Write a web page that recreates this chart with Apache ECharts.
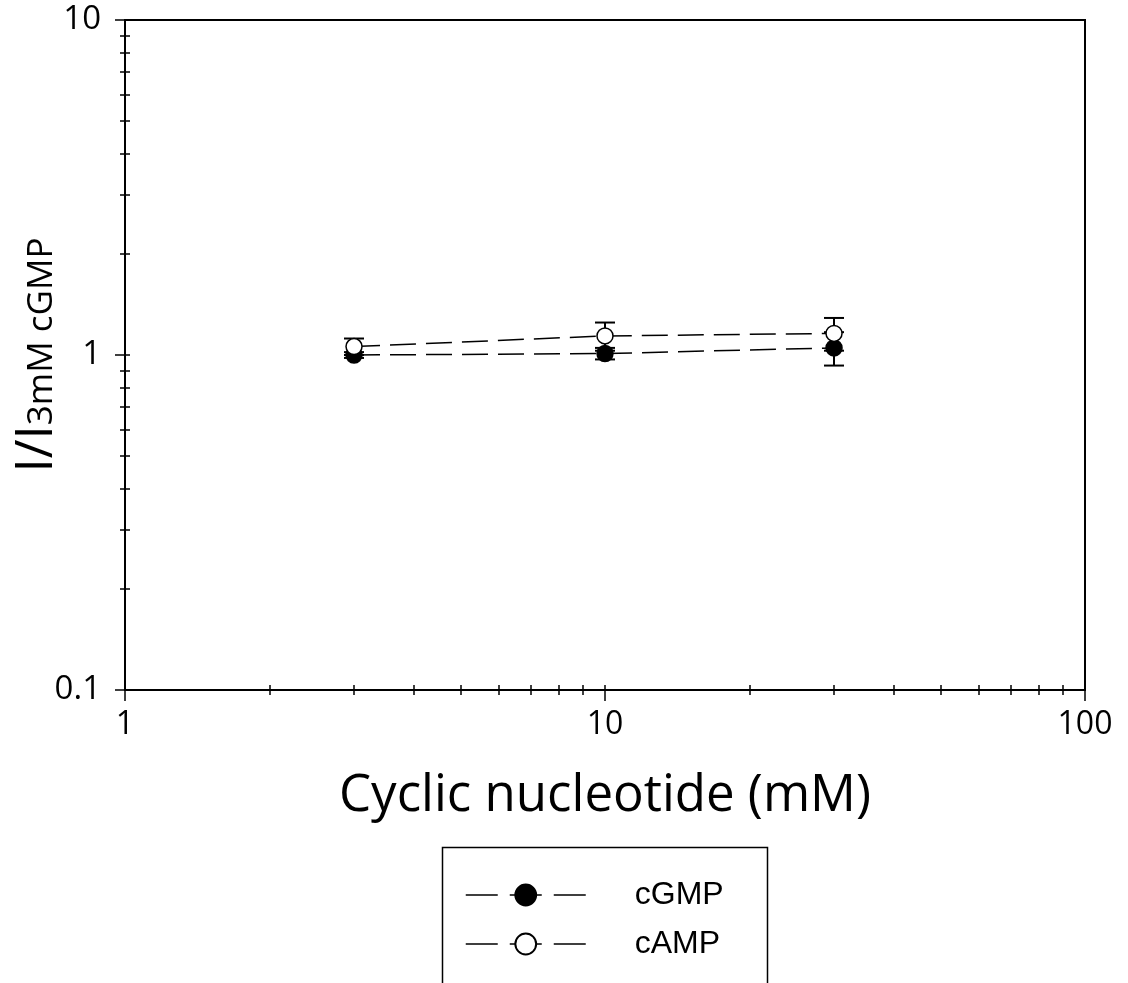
<!DOCTYPE html>
<html>
<head>
<meta charset="utf-8">
<script src="https://cdn.jsdelivr.net/npm/echarts@6/dist/echarts.min.js"></script>
<style>html,body{margin:0;padding:0;background:#fff;}#c{width:1128px;height:983px;}</style>
</head>
<body>
<div id="c"></div>
<script>
const concentrations = [3, 10, 30];
const cGMP = [1.00, 1.01, 1.05];
const cGMPErr = [0.02, 0.04, 0.12];
const cAMP = [1.06, 1.14, 1.16];
const cAMPErr = [0.06, 0.11, 0.13];
const xMajorTicks = [1, 10, 100];
const xMinorTicks = [2,3,4,5,6,7,8,9,20,30,40,50,60,70,80,90];
const xAllTicks = [1,2,3,4,5,6,7,8,9,10,20,30,40,50,60,70,80,90,100];
const yMajorTicks = [0.1, 1, 10];
const yMinorTicks = [0.2,0.3,0.4,0.5,0.6,0.7,0.8,0.9,2,3,4,5,6,7,8,9];
const yAllTicks = [0.1,0.2,0.3,0.4,0.5,0.6,0.7,0.8,0.9,1,2,3,4,5,6,7,8,9,10];
const xLabels = [1, 10, 100];
const yLabels = [0.1, 1, 10];

const chart = echarts.init(document.getElementById('c'));
const font = 'Open Sans';

function errData(vals, errs) {
  return concentrations.map((x, i) => [x, vals[i] - errs[i], vals[i] + errs[i]]);
}
function errRender(params, api) {
  const x = api.value(0), lo = api.value(1), hi = api.value(2);
  const p1 = api.coord([x, lo]), p2 = api.coord([x, hi]);
  const w = 10;
  const st = {stroke: '#000', lineWidth: 2};
  return {type: 'group', children: [
    {type: 'line', shape: {x1: p1[0], y1: p1[1], x2: p2[0], y2: p2[1]}, style: st},
    {type: 'line', shape: {x1: p1[0]-w, y1: p1[1], x2: p1[0]+w, y2: p1[1]}, style: st},
    {type: 'line', shape: {x1: p2[0]-w, y1: p2[1], x2: p2[0]+w, y2: p2[1]}, style: st}
  ]};
}

// kind: 'main' (outside major ticks, labels, line), 'minor' (outside minor ticks), 'inside' (inside ticks)
function xAxisDef(kind) {
  const main = kind === 'main';
  return {
    type: 'log', logBase: 10, min: 1, max: 100, position: 'bottom',
    axisLine: {show: main, onZero: false, lineStyle: {color: '#000', width: 2}},
    axisTick: {show: true, inside: kind === 'inside', length: main ? 11 : 5,
      customValues: main ? xMajorTicks : (kind === 'minor' ? xMinorTicks : xAllTicks),
      lineStyle: {color: '#000', width: 1.5}},
    axisLabel: {show: main, customValues: xLabels, color: '#000', fontSize: 32, fontFamily: font, margin: 19},
    splitLine: {show: false},
    name: main ? 'Cyclic nucleotide (mM)' : '',
    nameLocation: 'middle', nameGap: 81, nameMoveOverlap: false,
    nameTextStyle: {color: '#000', fontSize: 51, fontFamily: font}
  };
}
function yAxisDef(kind) {
  const main = kind === 'main';
  return {
    type: 'log', logBase: 10, min: 0.1, max: 10, position: 'left',
    axisLine: {show: main, onZero: false, lineStyle: {color: '#000', width: 2}},
    axisTick: {show: true, inside: kind === 'inside', length: main ? 10 : 5,
      customValues: main ? yMajorTicks : (kind === 'minor' ? yMinorTicks : yAllTicks),
      lineStyle: {color: '#000', width: 1.5}},
    axisLabel: {show: main, customValues: yLabels, color: '#000', fontSize: 33, fontFamily: font, margin: 24},
    splitLine: {show: false},
    name: main ? '{a|I/I}{b|3mM cGMP}' : '',
    nameLocation: 'middle', nameGap: 62, nameRotate: 90, nameMoveOverlap: false,
    nameTextStyle: {color: '#000', rich: {
      a: {fontSize: 51, fontFamily: font, color: '#000', verticalAlign: 'bottom'},
      b: {fontSize: 35, fontFamily: font, color: '#000', verticalAlign: 'bottom', padding: [0, 0, 3, 0]}
    }}
  };
}

chart.setOption({
  backgroundColor: '#fff',
  animation: false,
  grid: {left: 125, top: 20, right: 43, bottom: 293, outerBoundsMode: 'none', containLabel: false,
    show: true, borderColor: '#000', borderWidth: 2, backgroundColor: 'transparent'},
  xAxis: [xAxisDef('main'), xAxisDef('minor'), xAxisDef('inside')],
  yAxis: [yAxisDef('main'), yAxisDef('minor'), yAxisDef('inside')],
  graphic: [{
    type: 'rect', left: 440, top: 845, silent: true,
    shape: {width: 325, height: 200},
    style: {fill: 'none', stroke: '#000', lineWidth: 1.5}
  }],
  legend: {
    orient: 'vertical', left: 465, top: 879,
    data: ['cGMP', 'cAMP'],
    itemWidth: 120, itemHeight: 26, itemGap: 17,
    padding: 0,
    lineStyle: {type: [32, 12], width: 1.5, color: '#000'},
    textStyle: {fontFamily: 'Liberation Sans', fontSize: 32, color: '#000', padding: [0, 0, 0, 44]}
  },
  series: [
    {type: 'custom', name: 'errG', renderItem: errRender, data: errData(cGMP, cGMPErr), z: 1, encode: {x: 0, y: [1, 2]}},
    {type: 'custom', name: 'errA', renderItem: errRender, data: errData(cAMP, cAMPErr), z: 1, encode: {x: 0, y: [1, 2]}},
    {type: 'line', name: 'cGMP', data: concentrations.map((x, i) => [x, cGMP[i]]),
      symbol: 'circle', symbolSize: 16, z: 3,
      lineStyle: {color: '#000', width: 1.5, type: [26, 10]},
      itemStyle: {color: '#000', borderColor: '#000', borderWidth: 1.5}},
    {type: 'line', name: 'cAMP', data: concentrations.map((x, i) => [x, cAMP[i]]),
      symbol: 'circle', symbolSize: 16, z: 4,
      lineStyle: {color: '#000', width: 1.5, type: [26, 10]},
      itemStyle: {color: '#fff', borderColor: '#000', borderWidth: 1.5}}
  ]
});
</script>
</body>
</html>
